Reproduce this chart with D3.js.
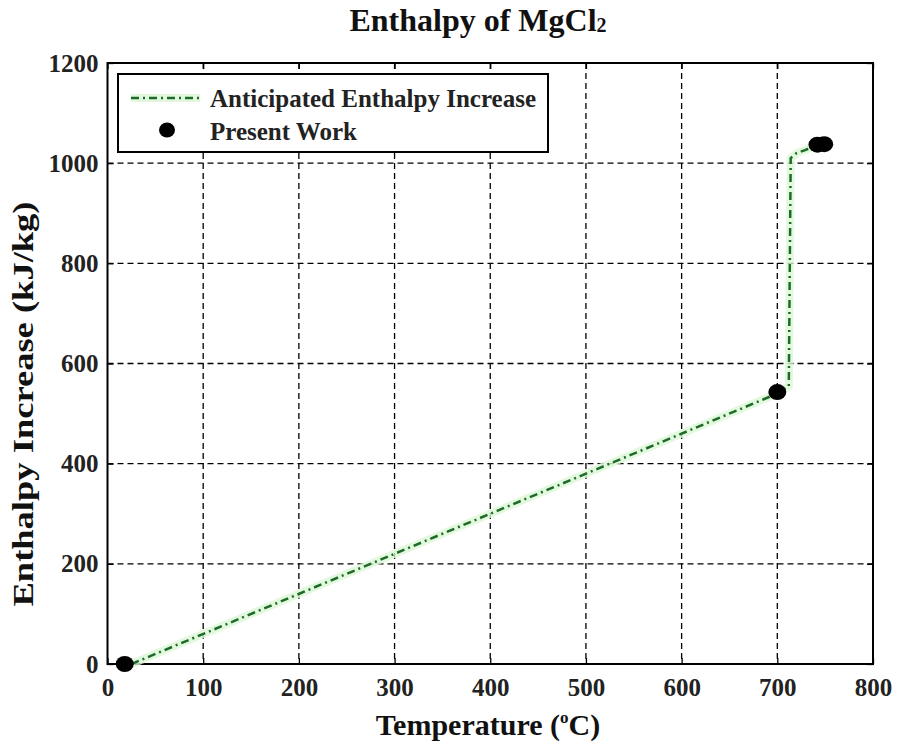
<!DOCTYPE html>
<html><head><meta charset="utf-8">
<script src="https://cdn.jsdelivr.net/npm/d3@7"></script>
<style>body{margin:0;background:#fff}svg{font-family:"Liberation Serif","Times New Roman",serif;font-weight:bold}</style>
</head><body><svg id="c" width="898" height="748"></svg>
<script>
const lineT = [25, 700, 712, 714, 720, 729, 742];
const lineH = [0, 540, 555, 1010, 1020, 1026, 1037];
const ptT = [18, 700, 742, 749];
const ptH = [0, 543, 1037, 1038];
const xTicks = [0,100,200,300,400,500,600,700,800];
const yTicks = [0,200,400,600,800,1000,1200];

const svg = d3.select("#c");
const L=107.5, R=873, T=63, B=664;
const x = d3.scaleLinear().domain([0,800]).range([L,R]);
const y = d3.scaleLinear().domain([0,1200]).range([B,T]);

// grid
svg.append("g").selectAll("line").data(xTicks.slice(1,-1)).join("line")
 .attr("x1",d=>x(d)).attr("x2",d=>x(d)).attr("y1",T).attr("y2",B)
 .attr("stroke","#000").attr("stroke-width",1.3).attr("stroke-dasharray","6,4");
svg.append("g").selectAll("line").data(yTicks.slice(1,-1)).join("line")
 .attr("y1",d=>y(d)).attr("y2",d=>y(d)).attr("x1",L).attr("x2",R)
 .attr("stroke","#000").attr("stroke-width",1.3).attr("stroke-dasharray","6,4");

// axes
const fmt = d3.format("d");
const xa = svg.append("g").attr("transform",`translate(0,${B})`)
 .call(d3.axisBottom(x).tickValues(xTicks).tickSize(-6).tickPadding(14).tickFormat(fmt));
const xt = svg.append("g").attr("transform",`translate(0,${T})`)
 .call(d3.axisTop(x).tickValues(xTicks).tickSize(-6).tickFormat(""));
const ya = svg.append("g").attr("transform",`translate(${L},0)`)
 .call(d3.axisLeft(y).tickValues(yTicks).tickSize(-6).tickPadding(9).tickFormat(fmt));
const yr = svg.append("g").attr("transform",`translate(${R},0)`)
 .call(d3.axisRight(y).tickValues(yTicks).tickSize(-6).tickFormat(""));
[xa,xt,ya,yr].forEach(g=>{g.select(".domain").remove();
 g.selectAll("line").attr("stroke","#000").attr("stroke-width",1.3);
 g.selectAll("text").attr("font-family","Liberation Serif, serif").attr("font-weight","bold")
  .attr("font-size",25).attr("fill","#222");});
svg.append("rect").attr("x",L).attr("y",T).attr("width",R-L).attr("height",B-T)
 .attr("fill","none").attr("stroke","#000").attr("stroke-width",2);

// line
const data = lineT.map((t,i)=>[t,lineH[i]]);
const lg = d3.line().x(d=>x(d[0])).y(d=>y(d[1]));
svg.append("path").attr("d",lg(data)).attr("fill","none").attr("stroke","#dcf7d4").attr("stroke-width",8).attr("opacity",0.8);
svg.append("path").attr("d",lg(data)).attr("fill","none").attr("stroke","#1d6b2a").attr("stroke-width",2.5)
 .attr("stroke-dasharray","8,4,2,4");

// points
svg.append("g").selectAll("ellipse").data(ptT.map((t,i)=>[t,ptH[i]])).join("ellipse")
 .attr("cx",d=>x(d[0])).attr("cy",d=>y(d[1])).attr("rx",9).attr("ry",8).attr("fill","#000");

// legend
svg.append("rect").attr("x",118).attr("y",74).attr("width",430).attr("height",78)
 .attr("fill","#fff").attr("stroke","#000").attr("stroke-width",2);
svg.append("line").attr("x1",131).attr("x2",200).attr("y1",98).attr("y2",98)
 .attr("stroke","#dcf7d4").attr("stroke-width",8).attr("opacity",0.8);
svg.append("line").attr("x1",131).attr("x2",200).attr("y1",98).attr("y2",98)
 .attr("stroke","#1d6b2a").attr("stroke-width",2.5).attr("stroke-dasharray","8,4,2,4");
svg.append("ellipse").attr("cx",167).attr("cy",130).attr("rx",8).attr("ry",7.5).attr("fill","#000");
svg.append("text").attr("x",210).attr("y",107).attr("font-size",25).attr("fill","#222")
 .attr("textLength",326).attr("lengthAdjust","spacingAndGlyphs").text("Anticipated Enthalpy Increase");
svg.append("text").attr("x",210).attr("y",140).attr("font-size",25).attr("fill","#222").text("Present Work");

// title
const tt = svg.append("text").attr("x",478).attr("y",31).attr("text-anchor","middle").attr("font-size",32).attr("fill","#111");
tt.append("tspan").text("Enthalpy of MgCl");
tt.append("tspan").attr("font-size",20).attr("dy",1).text("2");

// x label
const xl = svg.append("text").attr("x",488).attr("y",735).attr("text-anchor","middle").attr("font-size",30).attr("fill","#111");
xl.append("tspan").text("Temperature (");
xl.append("tspan").attr("font-size",17).attr("dy",-12).text("o");
xl.append("tspan").attr("dy",12).text("C)");

// y label
svg.append("text").attr("transform","translate(33,404) rotate(-90)").attr("text-anchor","middle")
 .attr("font-size",29).attr("fill","#111").attr("textLength",405).attr("lengthAdjust","spacingAndGlyphs")
 .text("Enthalpy Increase (kJ/kg)");
</script></body></html>
